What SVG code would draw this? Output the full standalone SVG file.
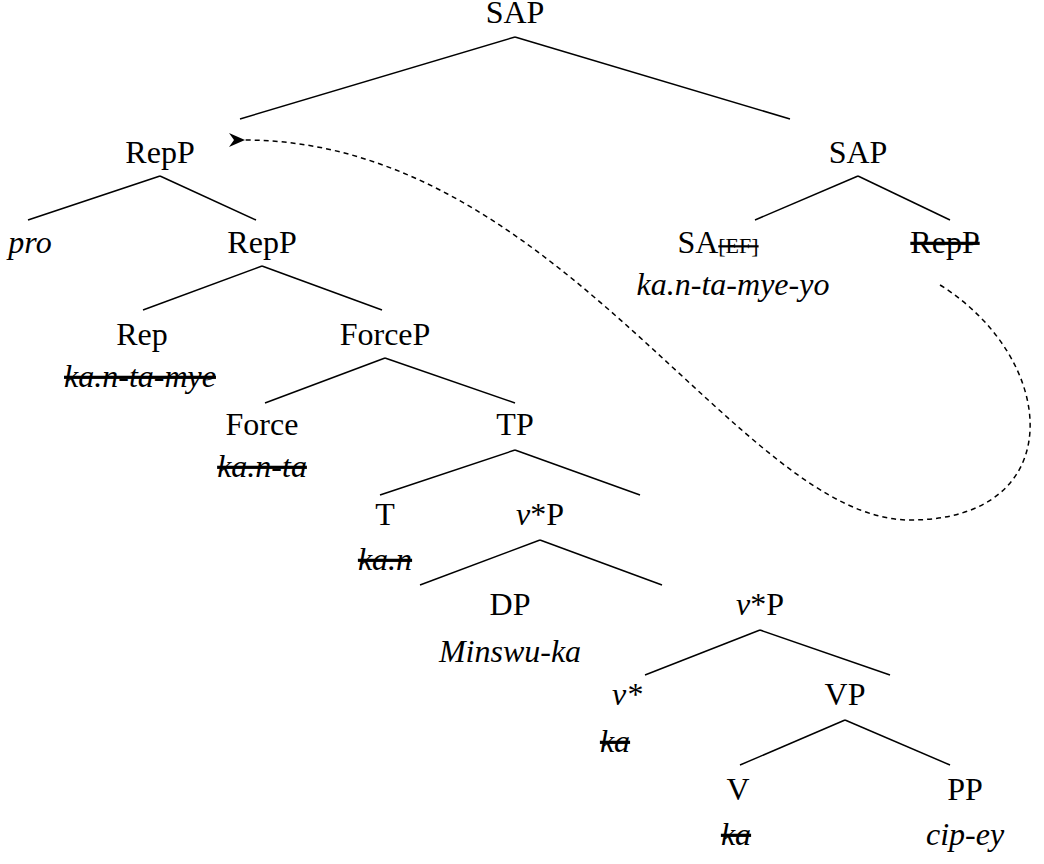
<svg xmlns="http://www.w3.org/2000/svg" width="1044" height="864" viewBox="0 0 1044 864">
<style>
text{font-family:"Liberation Serif","Times New Roman","DejaVu Serif",serif;font-size:32px;fill:#000;text-anchor:middle}
.i{font-style:italic}
.s{text-decoration:line-through}
line{stroke:#000;stroke-width:1.5}
</style>
<defs><marker id="a" markerWidth="16" markerHeight="14" refX="1" refY="7" orient="auto" markerUnits="userSpaceOnUse"><path d="M16,0 L0,7 L16,14 L11,7 Z" fill="#000"/></marker></defs>
<g id="connectors">
<line x1="515" y1="37" x2="240" y2="119"/><line x1="515" y1="37" x2="790" y2="119"/>
<line x1="160" y1="176" x2="28" y2="220"/><line x1="160" y1="176" x2="256" y2="220"/>
<line x1="858" y1="176" x2="755" y2="220"/><line x1="858" y1="176" x2="950" y2="220"/>
<line x1="262" y1="266" x2="143" y2="310"/><line x1="262" y1="266" x2="382" y2="310"/>
<line x1="385" y1="358" x2="265" y2="403"/><line x1="385" y1="358" x2="515" y2="403"/>
<line x1="515" y1="450" x2="380" y2="495"/><line x1="515" y1="450" x2="640" y2="495"/>
<line x1="540" y1="540" x2="420" y2="585"/><line x1="540" y1="540" x2="662" y2="585"/>
<line x1="760" y1="630" x2="645" y2="675"/><line x1="760" y1="630" x2="890" y2="675"/>
<line x1="845" y1="720" x2="740" y2="765"/><line x1="845" y1="720" x2="950" y2="765"/>
<path d="M940 285 C1060 360,1070 520,910 520 C740 520,560 140,244 140" fill="none" stroke="#000" stroke-width="1.5" stroke-dasharray="5,4" marker-end="url(#a)"/>
</g>
<g transform="translate(0,-5)">
<g id="sap"><text x="515" y="28">SAP</text></g>
<g id="repp1"><text x="160" y="168">RepP</text></g>
<g id="sap2"><text x="858" y="168">SAP</text></g>
<g id="pro"><text class="i" x="30" y="258">pro</text></g>
<g id="repp2"><text x="262" y="258">RepP</text></g>
<g id="sa"><text x="718" y="258">SA<tspan font-size="22" class="s">[EF]</tspan></text><text class="i" x="733" y="300">ka.n-ta-mye-yo</text></g>
<g id="repp3"><text class="s" x="945" y="258">RepP</text></g>
<g id="rep"><text x="142" y="350">Rep</text><text class="i s" x="140" y="392">ka.n-ta-mye</text></g>
<g id="forcep"><text x="385" y="350">ForceP</text></g>
<g id="force"><text x="262" y="440">Force</text><text class="i s" x="262" y="482">ka.n-ta</text></g>
<g id="tp"><text x="515" y="440">TP</text></g>
<g id="t"><text x="385" y="530">T</text><text class="i s" x="385" y="575">ka.n</text></g>
<g id="vp1"><text x="540" y="530"><tspan class="i">v</tspan>*P</text></g>
<g id="dp"><text x="510" y="620">DP</text><text class="i" x="510" y="667">Minswu-ka</text></g>
<g id="vp2"><text x="760" y="620"><tspan class="i">v</tspan>*P</text></g>
<g id="v"><text class="i" x="627" y="710">v*</text><text class="i s" x="615" y="757">ka</text></g>
<g id="VP"><text x="845" y="710">VP</text></g>
<g id="V"><text x="738" y="805">V</text><text class="i s" x="736" y="850">ka</text></g>
<g id="PP"><text x="965" y="805">PP</text><text class="i" x="965" y="850">cip-ey</text></g>
</g>
</svg>
